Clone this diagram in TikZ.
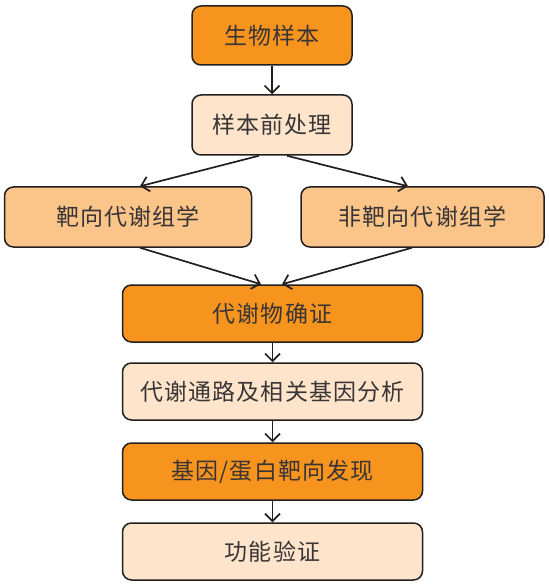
\documentclass[tikz,border=0pt]{standalone}
\usepackage{fontspec}
\newfontfamily\cjk{Noto Sans CJK SC}[LetterSpace=5]
\usetikzlibrary{arrows.meta,calc}
\definecolor{dk}{HTML}{F7941E}
\definecolor{md}{HTML}{FBC58A}
\definecolor{lt}{HTML}{FDE4CA}
\definecolor{ln}{HTML}{231F20}
\tikzset{
  box/.style={draw=ln, line width=1.5pt, rounded corners=9pt, inner sep=0pt,
    text=ln!90, font=\cjk\fontsize{23}{27}\selectfont},
  arr/.style={draw=ln, line width=1.7pt, -{Straight Barb[length=7.5pt,width=15pt]}},
}
\begin{document}
\begin{tikzpicture}[x=1pt,y=-1pt]
\useasboundingbox (0,0) rectangle (548,585);
\node[box, fill=dk, minimum width=160pt, minimum height=59pt] (b1) at (272,35.5) {生物样本};
\node[box, fill=lt, minimum width=160pt, minimum height=60pt] (b2) at (272,125) {样本前处理};
\node[box, fill=md, minimum width=247pt, minimum height=60pt] (b3) at (128,217) {靶向代谢组学};
\node[box, fill=md, minimum width=243pt, minimum height=60pt] (b4) at (422.5,217) {非靶向代谢组学};
\node[box, fill=dk, minimum width=300pt, minimum height=57pt] (b5) at (272.5,313.5) {代谢物确证};
\node[box, fill=lt, minimum width=300pt, minimum height=57pt] (b6) at (272.5,391.5) {代谢通路及相关基因分析};
\node[box, fill=dk, minimum width=300pt, minimum height=57pt] (b7) at (272.5,471.5) {基因/蛋白靶向发现};
\node[box, fill=lt, minimum width=300pt, minimum height=57pt] (b8) at (272.5,551.5) {功能验证};
\draw[arr] (b1) -- (b2);
\draw[arr] ($(b2.south)+(-13,0)$) -- ($(b3.north)+(12,0)$);
\draw[arr] ($(b2.south)+(15,0)$) -- ($(b4.north)+(-14.5,0)$);
\draw[arr] ($(b3.south)+(12,0)$) -- ($(b5.north)+(-11.5,0)$);
\draw[arr] ($(b4.south)+(-10.5,0)$) -- ($(b5.north)+(9.5,0)$);
\draw[arr] (b5) -- (b6);
\draw[arr] (b6) -- (b7);
\draw[arr] (b7) -- (b8);
\end{tikzpicture}
\end{document}
